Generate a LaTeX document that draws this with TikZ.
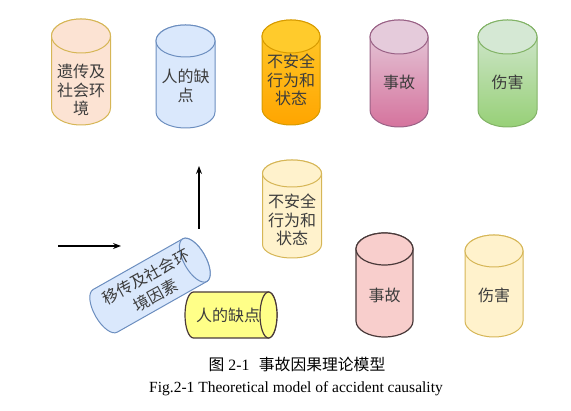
\documentclass[tikz,border=0pt]{standalone}
\usepackage{fontspec}
\setmainfont{Liberation Serif}
\newfontfamily\cjk{Noto Sans CJK SC}
\usetikzlibrary{arrows.meta}
\definecolor{txt}{HTML}{3C3C3C}
\definecolor{peach}{HTML}{FCE3D3}
\definecolor{goldline}{HTML}{D6B656}
\definecolor{blueF}{HTML}{DAE8FC}
\definecolor{blueL}{HTML}{6C8EBF}
\definecolor{orT}{HTML}{FFCB2C}
\definecolor{orB}{HTML}{FFA500}
\definecolor{orL}{HTML}{D79B00}
\definecolor{mgT}{HTML}{E6D0DE}
\definecolor{mgB}{HTML}{D5739D}
\definecolor{mgL}{HTML}{996185}
\definecolor{grT}{HTML}{D5E8D4}
\definecolor{grB}{HTML}{97D077}
\definecolor{grL}{HTML}{82B366}
\definecolor{ylF}{HTML}{FFF2CC}
\definecolor{pkF}{HTML}{F8CECC}
\definecolor{darkL}{HTML}{4A3A3A}
\definecolor{yhF}{HTML}{FFFF88}
\tikzset{
  cyltext/.style={align=center, text=txt, font=\cjk\fontsize{16}{18.5}\selectfont, inner sep=0pt},
  arr/.style={draw=black, line width=1.1pt, -{Stealth[length=8pt,width=6pt]}},
  peachbody/.style={draw=goldline, fill=peach, line width=1pt},
  peachtop/.style={draw=goldline, fill=peach, line width=1pt},
  bluebody/.style={draw=blueL, fill=blueF, line width=1pt},
  bluetop/.style={draw=blueL, fill=blueF, line width=1pt},
  orbody/.style={draw=orL, top color=orT, bottom color=orB, line width=1pt},
  ortop/.style={draw=orL, fill=orT, line width=1pt},
  mgbody/.style={draw=mgL, top color=mgT, bottom color=mgB, line width=1pt},
  mgtop/.style={draw=mgL, fill=mgT!95!mgB, line width=1pt},
  grbody/.style={draw=grL, top color=grT, bottom color=grB, line width=1pt},
  grtop/.style={draw=grL, fill=grT, line width=1pt},
  ylbody/.style={draw=goldline, fill=ylF, line width=1pt},
  yltop/.style={draw=goldline, fill=ylF, line width=1pt},
  pkbody/.style={draw=darkL, fill=pkF, line width=1.2pt},
  pktop/.style={draw=darkL, fill=pkF, line width=1.2pt},
  yhbody/.style={draw=darkL, fill=yhF, line width=1.2pt},
}
% #1 name, #2 style prefix, #3 cx, #4 top Y, #5 bottom Y, #6 r, #7 e, #8 text, #9 text Y
\newcommand\vcyl[9]{%
  \path[#2body] (#3-#6, #4-#7) -- (#3-#6, #5+#7)
     arc[start angle=180, end angle=360, x radius=#6, y radius=#7]
     -- (#3+#6, #4-#7)
     arc[start angle=0, end angle=180, x radius=#6, y radius=#7] -- cycle;
  \path[#2top] (#3, #4-#7) ellipse[x radius=#6, y radius=#7];
  \node[cyltext] (#1) at (#3, #9) {#8};
}
% horizontal cylinder in local coords, visible end on the right: #1 style, #2 half length, #3 r, #4 e
\newcommand\hcyl[4]{%
  \path[#1] (-#2, #3) -- (#2, #3)
     arc[start angle=90, end angle=-90, x radius=#4, y radius=#3]
     -- (-#2, -#3)
     arc[start angle=270, end angle=90, x radius=#4, y radius=#3] -- cycle;
  \path[#1] (#2, 0) ellipse[x radius=#4, y radius=#3];
}
\begin{document}
\begin{tikzpicture}[x=1pt, y=1pt]
\useasboundingbox (0,0) rectangle (571,411);
% top row
\vcyl{c1}{peach}{81}{392}{286}{29.5}{17}{遗传及\\社会环\\境}{321}
\vcyl{c2}{blue}{185.5}{386}{283}{29.5}{16}{人的缺\\点}{325}
\vcyl{c3}{or}{291}{391}{286}{29}{16.5}{不安全\\行为和\\状态}{331}
\vcyl{c4}{mg}{399}{391}{284}{29}{17}{事故}{329}
\vcyl{c5}{gr}{507.5}{391}{284}{29.5}{17}{伤害}{329}
% second row
\vcyl{d1}{yl}{292}{251}{153}{29.5}{13.5}{不安全\\行为和\\状态}{191}
\vcyl{d2}{pk}{384.5}{178}{74}{28.5}{16}{事故}{116}
\vcyl{d3}{yl}{494}{176}{74}{29}{16}{伤害}{116}
% tilted blue cylinder
\begin{scope}[shift={(150,125.5)}, rotate=29.5]
  \hcyl{bluebody}{51.5}{24.5}{11}
\end{scope}
\node[cyltext, rotate=28.5, font=\cjk\fontsize{16}{21}\selectfont] (t1) at (151,125) {移传及社会环\\境因素};
% horizontal yellow cylinder
\begin{scope}[shift={(231,96)}]
  \hcyl{yhbody}{37.5}{23}{8.5}
\end{scope}
\node[cyltext] (t2) at (228,96) {人的缺点};
% arrows
\coordinate (a1s) at (58,165);
\coordinate (a1e) at (121,165);
\coordinate (a2s) at (199,182);
\coordinate (a2e) at (199,245);
\draw[arr] (a1s) -- (a1e);
\draw[arr] (a2s) -- (a2e);
% captions
\node[inner sep=0pt, font=\fontsize{15.8}{18}\selectfont] (cap1) at (297,46) {{\cjk 图} 2-1\hspace{0.6em}{\cjk 事故因果理论模型}};
\node[inner sep=0pt, font=\fontsize{15.5}{18}\selectfont] (cap2) at (296,22) {Fig.2-1 Theoretical model of accident causality};
\end{tikzpicture}
\end{document}
